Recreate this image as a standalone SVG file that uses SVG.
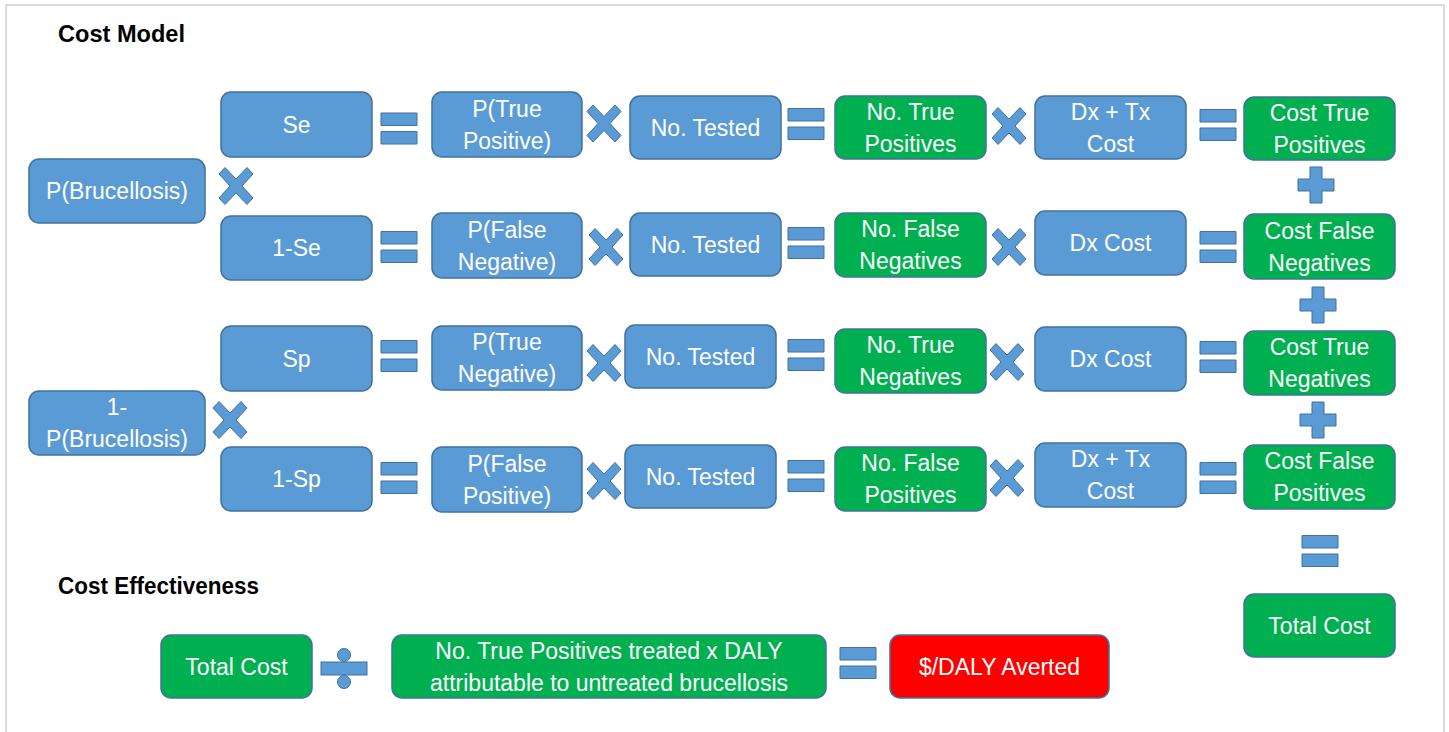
<svg xmlns="http://www.w3.org/2000/svg" width="1449" height="732" viewBox="0 0 1449 732">
<style>
.b{fill:#5B9BD5;stroke:#41719C;stroke-width:1.5}
.g{fill:#00B050;stroke:#41719C;stroke-width:1.5}
.r{fill:#FF0000;stroke:#41719C;stroke-width:1.5}
.op{fill:#5B9BD5;stroke:#41719C;stroke-width:1}
text{font-family:"Liberation Sans",Arial,sans-serif;font-size:23px;fill:#FFFFFF;text-anchor:middle}
.h{font-weight:bold;fill:#000000;text-anchor:start;font-size:23px}
</style>
<defs>
<path id="eq" d="M-18,-15.5h36v12.5h-36z M-18,3h36v12.5h-36z"/>
<path id="mul" d="M-17,-12L-11,-18.5L0,-7L11,-18.5L17,-12L6,0L17,12L11,18.5L0,7L-11,18.5L-17,12L-6,0Z"/>
<path id="plus" d="M-6,-18h12v12h12v12h-12v12h-12v-12h-12v-12h12z"/>
</defs>
<rect x="6" y="5" width="1438" height="740" fill="#FFFFFF" stroke="#D0D0D0" stroke-width="1.5"/>
<text class="h" x="58" y="42" textLength="127" lengthAdjust="spacingAndGlyphs">Cost Model</text>
<text class="h" x="58" y="594" textLength="201" lengthAdjust="spacingAndGlyphs">Cost Effectiveness</text>

<g id="p_bruc"><rect class="b" x="29" y="159" width="176" height="64" rx="10"/><text x="117" y="199">P(Brucellosis)</text></g>
<g id="one_minus_p_bruc"><rect class="b" x="29" y="391" width="176" height="64" rx="10"/><text x="117" y="415">1-</text><text x="117" y="447">P(Brucellosis)</text></g>

<g id="se"><rect class="b" x="221" y="92" width="151" height="65" rx="10"/><text x="296.5" y="133">Se</text></g>
<g id="p_tp"><rect class="b" x="432" y="92" width="150" height="65" rx="10"/><text x="507" y="117">P(True</text><text x="507" y="149">Positive)</text></g>
<g id="tested1"><rect class="b" x="630" y="96" width="151" height="63" rx="10"/><text x="705.5" y="136">No. Tested</text></g>
<g id="n_tp"><rect class="g" x="835" y="96" width="151" height="63" rx="10"/><text x="910.5" y="120">No. True</text><text x="910.5" y="152">Positives</text></g>
<g id="dxtx1"><rect class="b" x="1035" y="96" width="151" height="63" rx="10"/><text x="1110.5" y="120">Dx + Tx</text><text x="1110.5" y="152">Cost</text></g>
<g id="c_tp"><rect class="g" x="1244" y="97" width="151" height="63" rx="10"/><text x="1319.5" y="121">Cost True</text><text x="1319.5" y="153">Positives</text></g>

<g id="one_minus_se"><rect class="b" x="221" y="216" width="151" height="64" rx="10"/><text x="296.5" y="256">1-Se</text></g>
<g id="p_fn"><rect class="b" x="432" y="213" width="150" height="65" rx="10"/><text x="507" y="238">P(False</text><text x="507" y="270">Negative)</text></g>
<g id="tested2"><rect class="b" x="630" y="213" width="151" height="63" rx="10"/><text x="705.5" y="253">No. Tested</text></g>
<g id="n_fn"><rect class="g" x="835" y="213" width="151" height="64" rx="10"/><text x="910.5" y="237">No. False</text><text x="910.5" y="269">Negatives</text></g>
<g id="dx2"><rect class="b" x="1035" y="211" width="151" height="64" rx="10"/><text x="1110.5" y="251">Dx Cost</text></g>
<g id="c_fn"><rect class="g" x="1244" y="214" width="151" height="65" rx="10"/><text x="1319.5" y="239">Cost False</text><text x="1319.5" y="271">Negatives</text></g>

<g id="sp"><rect class="b" x="221" y="326" width="151" height="65" rx="10"/><text x="296.5" y="367">Sp</text></g>
<g id="p_tn"><rect class="b" x="432" y="326" width="150" height="64" rx="10"/><text x="507" y="350">P(True</text><text x="507" y="382">Negative)</text></g>
<g id="tested3"><rect class="b" x="625" y="325" width="151" height="63" rx="10"/><text x="700.5" y="365">No. Tested</text></g>
<g id="n_tn"><rect class="g" x="835" y="329" width="151" height="64" rx="10"/><text x="910.5" y="353">No. True</text><text x="910.5" y="385">Negatives</text></g>
<g id="dx3"><rect class="b" x="1035" y="327" width="151" height="64" rx="10"/><text x="1110.5" y="367">Dx Cost</text></g>
<g id="c_tn"><rect class="g" x="1244" y="331" width="151" height="64" rx="10"/><text x="1319.5" y="355">Cost True</text><text x="1319.5" y="387">Negatives</text></g>

<g id="one_minus_sp"><rect class="b" x="221" y="447" width="151" height="64" rx="10"/><text x="296.5" y="487">1-Sp</text></g>
<g id="p_fp"><rect class="b" x="432" y="447" width="150" height="65" rx="10"/><text x="507" y="472">P(False</text><text x="507" y="504">Positive)</text></g>
<g id="tested4"><rect class="b" x="625" y="445" width="151" height="63" rx="10"/><text x="700.5" y="485">No. Tested</text></g>
<g id="n_fp"><rect class="g" x="835" y="447" width="151" height="64" rx="10"/><text x="910.5" y="471">No. False</text><text x="910.5" y="503">Positives</text></g>
<g id="dxtx4"><rect class="b" x="1035" y="443" width="151" height="64" rx="10"/><text x="1110.5" y="467">Dx + Tx</text><text x="1110.5" y="499">Cost</text></g>
<g id="c_fp"><rect class="g" x="1244" y="445" width="151" height="64" rx="10"/><text x="1319.5" y="469">Cost False</text><text x="1319.5" y="501">Positives</text></g>

<g id="total_cost"><rect class="g" x="1244" y="594" width="151" height="63" rx="10"/><text x="1319.5" y="634">Total Cost</text></g>

<g id="total_cost_2"><rect class="g" x="161" y="635" width="151" height="63" rx="10"/><text x="236.5" y="675">Total Cost</text></g>
<g id="tp_daly"><rect class="g" x="392" y="635" width="434" height="63" rx="10"/><text x="609" y="659">No. True Positives treated x DALY</text><text x="609" y="691">attributable to untreated brucellosis</text></g>
<g id="daly_averted"><rect class="r" x="890" y="635" width="219" height="63" rx="10"/><text x="999.5" y="675">$/DALY Averted</text></g>

<g id="operators">
<use href="#mul" class="op" transform="translate(236,186)"/>
<use href="#mul" class="op" transform="translate(230,420)"/>

<use href="#eq" class="op" transform="translate(399,128.5)"/>
<use href="#mul" class="op" transform="translate(604,123.5)"/>
<use href="#eq" class="op" transform="translate(806,124)"/>
<use href="#mul" class="op" transform="translate(1009,126)"/>
<use href="#eq" class="op" transform="translate(1218,125)"/>
<use href="#plus" class="op" transform="translate(1316,185)"/>

<use href="#eq" class="op" transform="translate(399,247)"/>
<use href="#mul" class="op" transform="translate(606,247)"/>
<use href="#eq" class="op" transform="translate(806,243)"/>
<use href="#mul" class="op" transform="translate(1009,247)"/>
<use href="#eq" class="op" transform="translate(1218,247)"/>
<use href="#plus" class="op" transform="translate(1318,305)"/>

<use href="#eq" class="op" transform="translate(399,356)"/>
<use href="#mul" class="op" transform="translate(604,363)"/>
<use href="#eq" class="op" transform="translate(806,355)"/>
<use href="#mul" class="op" transform="translate(1007,362)"/>
<use href="#eq" class="op" transform="translate(1218,357)"/>
<use href="#plus" class="op" transform="translate(1318,420)"/>

<use href="#eq" class="op" transform="translate(399,478)"/>
<use href="#mul" class="op" transform="translate(604,481)"/>
<use href="#eq" class="op" transform="translate(806,476)"/>
<use href="#mul" class="op" transform="translate(1007,478)"/>
<use href="#eq" class="op" transform="translate(1218,478)"/>
<use href="#eq" class="op" transform="translate(1320,551)"/>

<g id="divide" class="op"><circle cx="344" cy="655" r="6.5"/><rect x="321" y="662" width="46" height="13"/><circle cx="344" cy="682" r="6.5"/></g>
<use href="#eq" class="op" transform="translate(858,663)"/>
</g>
</svg>
